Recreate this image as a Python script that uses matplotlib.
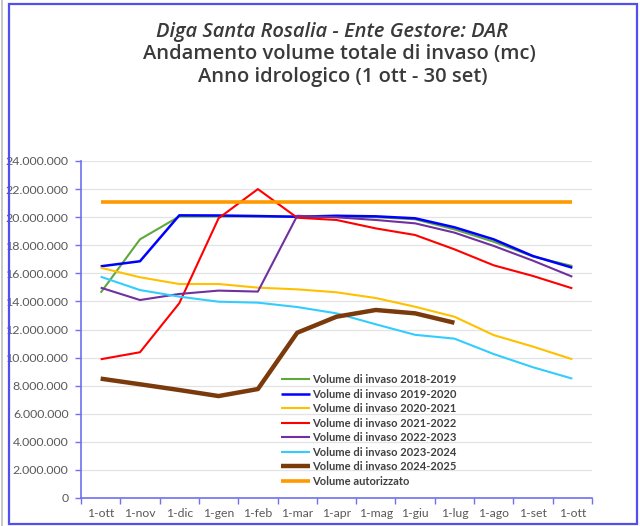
import matplotlib
matplotlib.use("Agg")
import matplotlib.pyplot as plt
from matplotlib.patches import Rectangle
from matplotlib.ticker import FuncFormatter, FixedLocator

months = ["1-ott", "1-nov", "1-dic", "1-gen", "1-feb", "1-mar", "1-apr",
          "1-mag", "1-giu", "1-lug", "1-ago", "1-set", "1-ott"]

v2018 = [14.62, 18.42, 20.05, 20.05, 20.05, 20.03, 20.05, 20.0, 19.85, 19.13, 18.25, 17.2, 16.52]
v2019 = [16.5, 16.86, 20.13, 20.12, 20.08, 20.03, 20.1, 20.06, 19.92, 19.28, 18.42, 17.23, 16.4]
v2020 = [16.4, 15.72, 15.24, 15.24, 14.98, 14.86, 14.65, 14.24, 13.62, 12.91, 11.6, 10.78, 9.88]
v2021 = [9.88, 10.38, 13.87, 19.92, 22.0, 19.96, 19.8, 19.2, 18.73, 17.71, 16.57, 15.81, 14.93]
v2022 = [14.98, 14.1, 14.53, 14.77, 14.7, 20.1, 19.99, 19.8, 19.56, 18.9, 17.95, 16.9, 15.76]
v2023 = [15.76, 14.81, 14.34, 13.98, 13.91, 13.6, 13.15, 12.37, 11.62, 11.35, 10.25, 9.31, 8.5]
v2024 = [8.5, 8.1, 7.69, 7.26, 7.76, 11.77, 12.91, 13.39, 13.15, 12.48]
autorizzato = [21.1] * 13

series = [
    ("Volume di invaso 2018-2019", v2018, "#5FA83C", 1.5),
    ("Volume di invaso 2019-2020", v2019, "#0000FF", 1.8),
    ("Volume di invaso 2020-2021", v2020, "#FFC000", 1.5),
    ("Volume di invaso 2021-2022", v2021, "#FF0000", 1.5),
    ("Volume di invaso 2022-2023", v2022, "#7030A0", 1.5),
    ("Volume di invaso 2023-2024", v2023, "#33CCFF", 1.5),
    ("Volume di invaso 2024-2025", v2024, "#7B3A0C", 3.2),
    ("Volume autorizzato", autorizzato, "#FF9900", 2.6),
]

plt.rcParams['font.family'] = ['Lato', 'DejaVu Sans']

fig = plt.figure(figsize=(6.4, 5.26), dpi=100)
# outer frame
fig.patches.append(Rectangle((9/640, 1 - 524/526), 628/640, 520/526, transform=fig.transFigure,
                             fill=False, edgecolor="#5050F0", linewidth=1.6))
fig.patches.append(Rectangle((1/640, 0), 1.5/640, 1, transform=fig.transFigure,
                             fill=True, facecolor="#C8C8C8", edgecolor="none"))

ax = fig.add_axes([81/640, 1 - 498/526, (592 - 81)/640, (498 - 161)/526])

for label, vals, color, lw in series:
    ax.plot(range(len(vals)), [v * 1e6 for v in vals], color=color, lw=lw,
            label=label, solid_capstyle="butt", zorder=3)

ax.set_xlim(-0.5, 12.5)
ax.set_ylim(0, 24e6)
ax.yaxis.set_major_locator(FixedLocator([i * 2e6 for i in range(13)]))
ax.yaxis.set_major_formatter(FuncFormatter(lambda v, p: "0" if v == 0 else f"{int(v):,}".replace(",", ".")))
ax.grid(axis="y", color="#E3E3E3", lw=0.9, zorder=0)
ax.set_axisbelow(True)

ax.set_xticks(range(13))
ax.set_xticklabels(months)
ax.set_xticks([i - 0.5 for i in range(14)], minor=True)
ax.tick_params(axis="x", which="major", length=0, pad=7, labelsize=8.8, labelcolor="#595959")
ax.tick_params(axis="x", which="minor", length=4, color="#7070F0", width=1)
ax.tick_params(axis="y", which="major", length=4, color="#7070F0", width=1, labelsize=8.9,
               labelcolor="#595959", pad=5)

for s in ["top", "right"]:
    ax.spines[s].set_visible(False)
for s in ["left", "bottom"]:
    ax.spines[s].set_color("#7070F0")
    ax.spines[s].set_linewidth(1.2)

leg = ax.legend(loc="upper left", bbox_to_anchor=((281 - 81)/511, (498 - 374)/337),
                frameon=False, fontsize=8, handlelength=2.6, handletextpad=0.2,
                labelspacing=0.32, borderaxespad=0, borderpad=0)
for t in leg.get_texts():
    t.set_color("#404040")
    t.set_fontweight("bold")

tfam = ['Open Sans', 'DejaVu Sans']
fig.text(0.518, 1 - 32/526, "Diga Santa Rosalia - Ente Gestore: DAR", ha="center", va="center",
         fontsize=14.5, style="italic", color="#3A3A3A", family=tfam, fontweight="semibold")
fig.text(0.531, 1 - 54/526, "Andamento volume totale di invaso (mc)", ha="center", va="center",
         fontsize=14.5, color="#3A3A3A", family=tfam, fontweight="semibold")
fig.text(0.536, 1 - 77/526, "Anno idrologico (1 ott - 30 set)", ha="center", va="center",
         fontsize=14.5, color="#3A3A3A", family=tfam, fontweight="semibold")

fig.savefig("out.png", dpi=100)
